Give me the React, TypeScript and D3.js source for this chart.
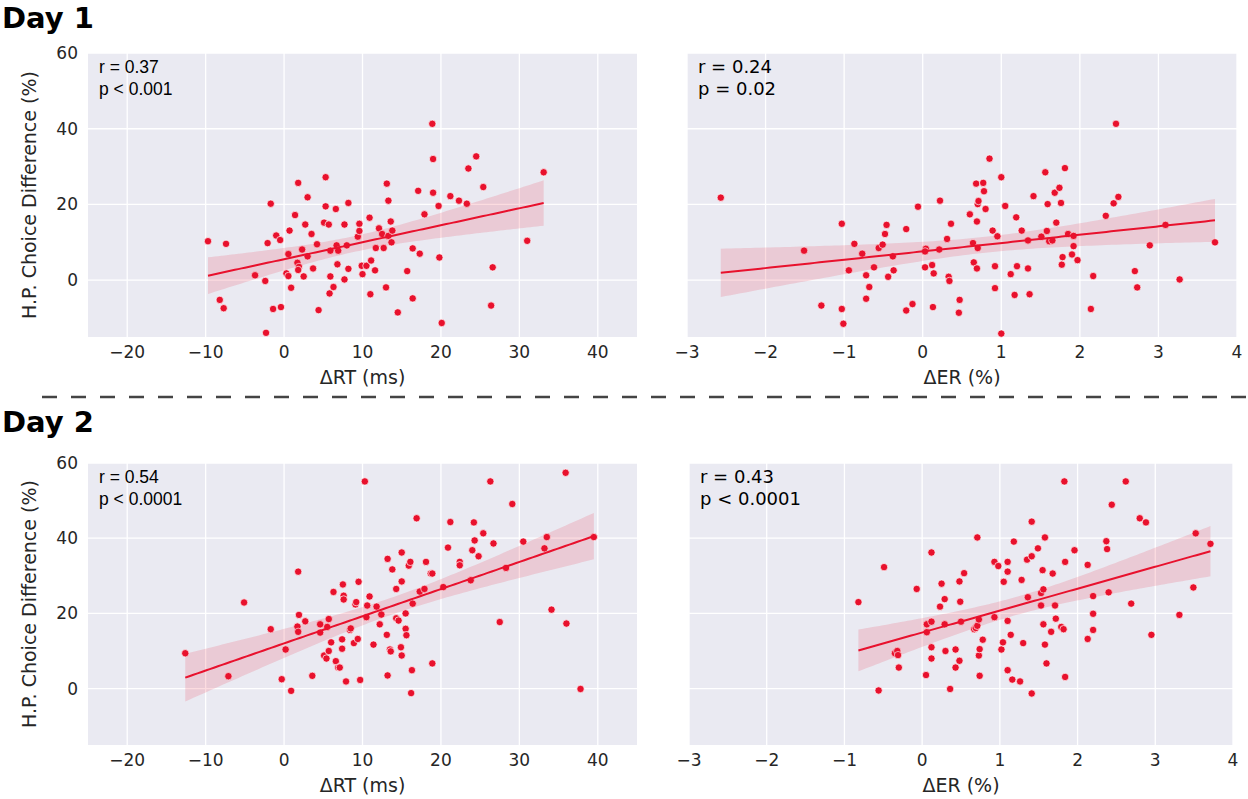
import * as d3 from 'd3'

// Day 1, ΔRT panel
const day1RtX = [-9.7, -7.4, -8.2, -7.7, -3.7, -2.4, -2.1, -1.7, -1.0, -0.5, -2.3, -1.4, -0.4, 0.55, 0.3, 0.55, 0.9, 0.7, 1.4, 1.8, 1.7, 1.9, 1.8, 2.3, 2.5, 2.7, 3.0, 3.0, 3.5, 3.7, 4.2, 4.4, 5.1, 5.3, 5.3, 5.7, 5.9, 5.9, 5.8, 6.3, 6.6, 6.7, 6.9, 6.8, 7.7, 7.7, 8.0, 8.2, 8.2, 9.4, 9.6, 9.6, 9.9, 10.0, 10.5, 10.9, 11.1, 11.0, 11.6, 11.7, 12.1, 12.5, 12.7, 13.1, 13.0, 13.3, 13.3, 13.6, 13.8, 13.7, 14.5, 15.7, 16.4, 16.4, 17.1, 17.3, 17.9, 18.9, 19.0, 19.0, 19.7, 19.8, 20.1, 21.2, 22.3, 23.3, 23.5, 24.5, 25.4, 26.6, 26.4, 31.0, 33.1]
const day1RtY = [10.3, 9.6, -5.2, -7.4, 1.3, -0.2, 9.8, 20.2, 11.8, 10.6, -13.9, -7.6, -7.1, 6.9, 1.8, 1.1, -2.0, 13.1, 17.2, 25.7, 4.6, 3.5, 2.7, 8.1, 1.0, 14.7, 21.9, 6.3, 12.2, 3.1, 9.5, -7.9, 15.2, 27.2, 19.5, 14.7, 7.8, 1.0, -3.5, -1.8, 18.8, 9.2, 7.8, 4.2, 14.7, 0.2, 9.2, 20.4, 3.0, 11.5, 14.9, 13.0, 3.8, 1.6, 3.8, 16.5, 5.2, -3.7, 2.6, 8.5, 13.7, 12.2, 8.5, 25.5, -1.9, 21.0, 11.7, 15.5, 13.1, 10.0, -8.5, 2.4, 8.4, -4.8, 23.6, 7.0, 17.4, 41.3, 32.0, 23.1, 19.6, 6.0, -11.3, 22.2, 21.0, 20.2, 29.5, 32.7, 24.6, 3.4, -6.7, 10.4, 28.5]

// Day 1, ΔER panel
const day1ErX = [-2.57, -1.51, -1.29, -1.03, -1.03, -1.01, -0.94, -0.87, -0.77, -0.72, -0.72, -0.68, -0.62, -0.56, -0.51, -0.48, -0.46, -0.44, -0.38, -0.37, -0.21, -0.21, -0.13, -0.06, 0.03, 0.04, 0.03, 0.13, 0.12, 0.14, 0.21, 0.22, 0.31, 0.36, 0.33, 0.34, 0.47, 0.46, 0.6, 0.64, 0.65, 0.68, 0.69, 0.69, 0.7, 0.71, 0.7, 0.77, 0.78, 0.8, 0.85, 0.89, 0.92, 0.92, 0.95, 1.0, 1.0, 1.05, 1.12, 1.17, 1.19, 1.2, 1.26, 1.34, 1.34, 1.36, 1.41, 1.51, 1.56, 1.58, 1.59, 1.61, 1.65, 1.68, 1.7, 1.74, 1.76, 1.77, 1.78, 1.81, 1.85, 1.9, 1.92, 1.92, 1.97, 2.14, 2.17, 2.33, 2.43, 2.49, 2.46, 2.7, 2.73, 2.89, 3.09, 3.27, 3.72]
const day1ErY = [21.8, 7.8, -6.7, 14.9, -7.6, -11.5, 2.6, 9.6, 7.0, 1.3, -4.9, -1.8, 3.4, 8.5, 9.4, 12.2, 14.6, 0.9, 6.3, 2.6, 13.5, -8.0, -6.3, 19.4, 3.4, 8.3, 7.6, -7.1, 4.0, 1.8, 8.1, 21.0, 10.9, 14.9, 0.9, -0.2, -5.2, -8.6, 17.4, 9.8, 4.7, 25.5, 3.1, 15.5, 20.1, 20.9, 8.5, 25.7, 23.5, 18.8, 32.1, 13.1, 3.7, -2.1, 11.6, 27.2, -14.1, 19.6, 1.6, -3.9, 16.6, 3.7, 13.1, 10.5, 3.1, -3.7, 22.2, 11.5, 28.5, 13.0, 20.1, 10.3, 10.5, 23.1, 15.2, 24.4, 20.4, 4.1, 6.1, 29.6, 12.2, 6.8, 11.7, 9.0, 5.3, -7.6, 1.1, 17.0, 20.3, 22.0, 41.3, 2.4, -1.9, 9.2, 14.6, 0.2, 10.0]

// Day 2, ΔRT panel
const day2RtX = [-12.6, -7.1, -5.1, -1.7, -0.3, 0.2, 0.9, 1.8, 1.9, 1.7, 1.8, 2.7, 3.6, 4.6, 4.6, 5.1, 5.4, 5.7, 5.5, 5.7, 6.0, 6.3, 6.6, 6.9, 7.1, 7.4, 7.4, 7.5, 7.6, 7.6, 7.9, 8.4, 8.5, 8.9, 9.1, 9.2, 9.4, 9.5, 9.7, 10.3, 10.6, 10.5, 10.9, 11.4, 11.8, 12.2, 12.4, 13.1, 13.2, 13.2, 13.5, 13.6, 13.8, 14.3, 14.3, 14.6, 14.9, 15.0, 15.0, 15.0, 15.5, 15.5, 15.6, 15.9, 16.1, 16.2, 16.3, 16.4, 16.9, 17.3, 17.9, 18.1, 18.7, 18.9, 18.9, 20.3, 20.9, 21.2, 22.4, 22.4, 23.8, 24.0, 24.2, 24.3, 24.8, 25.4, 26.3, 26.7, 27.5, 28.3, 29.1, 30.5, 33.2, 33.5, 34.1, 35.9, 36.0, 37.8, 39.5]
const day2RtY = [9.4, 3.3, 22.9, 15.8, 2.5, 10.4, -0.6, 31.1, 19.6, 16.5, 15.1, 17.9, 3.4, 17.1, 14.9, 8.8, 8.0, 18.5, 16.4, 10.0, 12.3, 25.7, 7.3, 5.6, 5.6, 13.1, 10.6, 27.7, 24.7, 23.7, 1.9, 15.6, 16.0, 12.1, 22.4, 23.0, 13.2, 28.4, 2.3, 55.1, 22.1, 19.0, 24.5, 11.7, 21.8, 17.1, 19.7, 14.3, 3.5, 34.5, 10.4, 9.9, 31.7, 26.5, 18.7, 18.1, 11.0, 8.8, 28.5, 36.2, 20.0, 15.9, 14.2, 32.7, 33.7, -1.2, 4.9, 22.6, 45.3, 25.8, 26.5, 33.7, 30.6, 30.6, 6.7, 27.0, 37.5, 44.3, 33.7, 32.8, 28.8, 36.8, 44.2, 39.4, 35.2, 41.3, 55.1, 38.6, 17.7, 32.1, 49.1, 39.1, 37.3, 40.3, 21.0, 57.4, 17.3, -0.1, 40.3]

// Day 2, ΔER panel
const day2ErX = [-0.82, -0.56, -0.49, -0.35, -0.32, -0.31, -0.3, -0.07, 0.05, 0.06, 0.06, 0.12, 0.12, 0.12, 0.12, 0.23, 0.25, 0.29, 0.3, 0.29, 0.36, 0.43, 0.43, 0.48, 0.49, 0.48, 0.5, 0.54, 0.67, 0.69, 0.71, 0.71, 0.73, 0.73, 0.74, 0.74, 0.78, 0.93, 0.93, 0.98, 1.02, 1.04, 1.05, 1.1, 1.1, 1.1, 1.1, 1.14, 1.16, 1.18, 1.26, 1.28, 1.3, 1.35, 1.36, 1.41, 1.41, 1.41, 1.49, 1.53, 1.53, 1.55, 1.56, 1.56, 1.58, 1.58, 1.6, 1.66, 1.68, 1.71, 1.72, 1.79, 1.82, 1.83, 1.84, 1.84, 1.96, 2.13, 2.13, 2.2, 2.2, 2.2, 2.37, 2.38, 2.4, 2.44, 2.62, 2.69, 2.8, 2.88, 2.95, 3.31, 3.49, 3.52, 3.71]
const day2ErY = [23.0, -0.5, 32.3, 9.4, 10.0, 8.9, 5.6, 26.5, 3.6, 17.1, 15.0, 36.2, 17.8, 11.0, 8.0, 21.8, 27.9, 23.8, 10.0, 17.1, -0.1, 10.4, 5.6, 28.5, 23.1, 7.4, 17.8, 30.7, 15.8, 16.1, 16.7, 40.2, 18.4, 8.8, 10.5, 3.4, 13.0, 19.0, 33.7, 32.6, 10.4, 12.3, 28.4, 33.7, 31.1, 18.0, 4.9, 14.3, 2.4, 39.1, 1.9, 28.9, 12.1, 34.3, 24.3, 35.2, 44.4, -1.3, 37.3, 22.1, 25.4, 31.5, 26.4, 17.1, 11.7, 40.2, 6.7, 15.1, 30.6, 22.1, 18.6, 16.4, 15.8, 55.1, 33.7, 3.1, 36.8, 32.9, 13.2, 24.6, 19.9, 15.6, 39.2, 37.1, 25.6, 48.9, 55.1, 22.6, 45.3, 44.2, 14.3, 19.6, 26.9, 41.3, 38.5]

const rtTicks = [-20, -10, 0, 10, 20, 30, 40]
const erTicks = [-3, -2, -1, 0, 1, 2, 3, 4]
const yTicks = [0, 20, 40, 60]
const statLines = [
  ['r = 0.37', 'p < 0.001'],
  ['r = 0.24', 'p = 0.02'],
  ['r = 0.54', 'p < 0.0001'],
  ['r = 0.43', 'p < 0.0001'],
]

const RED = '#e8112d'
const TEXT = '#262626'
const fmt = (v: number) => (v < 0 ? '\u2212' + Math.abs(v) : String(v))

// least squares fit + 95% band for the mean
function fit(xs: number[], ys: number[]) {
  const n = xs.length
  const mx = d3.mean(xs)!
  const my = d3.mean(ys)!
  let sxx = 0
  let sxy = 0
  xs.forEach((x, i) => {
    sxx += (x - mx) ** 2
    sxy += (x - mx) * (ys[i] - my)
  })
  const b = sxy / sxx
  const a = my - b * mx
  let sse = 0
  xs.forEach((x, i) => (sse += (ys[i] - a - b * x) ** 2))
  const s = Math.sqrt(sse / (n - 2))
  const [x0, x1] = d3.extent(xs) as [number, number]
  return d3.range(0, 101).map((k) => {
    const x = x0 + ((x1 - x0) * k) / 100
    const yhat = a + b * x
    const se = s * Math.sqrt(1 / n + (x - mx) ** 2 / sxx)
    return { x, y: yhat, lo: yhat - 1.984 * se, hi: yhat + 1.984 * se }
  })
}

function Panel({ xs, ys, xDomain, xTicks, box, xLabel, stat, statFont, showY }: any) {
  const x = d3.scaleLinear().domain(xDomain).range([box.left, box.right])
  const y = d3.scaleLinear().domain([-15, 60]).range([box.bottom, box.top])
  const reg = fit(xs, ys)
  const area = d3
    .area<any>()
    .x((d) => x(d.x))
    .y0((d) => y(d.lo))
    .y1((d) => y(d.hi))
  const line = d3
    .line<any>()
    .x((d) => x(d.x))
    .y((d) => y(d.y))
  const cx = (box.left + box.right) / 2
  return (
    <g>
      <rect x={box.left} y={box.top} width={box.right - box.left} height={box.bottom - box.top} fill="#eaeaf2" />
      {xTicks.map((t: number) => (
        <line key={'gx' + t} x1={x(t)} x2={x(t)} y1={box.top} y2={box.bottom} stroke="#fff" strokeWidth={1.3} />
      ))}
      {yTicks.map((t) => (
        <line key={'gy' + t} x1={box.left} x2={box.right} y1={y(t)} y2={y(t)} stroke="#fff" strokeWidth={1.3} />
      ))}
      {xs.map((v: number, i: number) => (
        <circle key={i} cx={x(v)} cy={y(ys[i])} r={3.7} fill={RED} stroke="#fff" strokeWidth={0.7} />
      ))}
      <path d={area(reg)!} fill={RED} fillOpacity={0.15} />
      <path d={line(reg)!} fill="none" stroke={RED} strokeWidth={2} />
      {xTicks.map((t: number) => (
        <text key={'tx' + t} x={x(t)} y={box.bottom + 21} textAnchor="middle" fontSize={17} fill={TEXT}>
          {fmt(t)}
        </text>
      ))}
      {showY &&
        yTicks.map((t) => (
          <text key={'ty' + t} x={box.left - 10} y={y(t)} dy="0.35em" textAnchor="end" fontSize={17} fill={TEXT}>
            {t}
          </text>
        ))}
      <text x={cx} y={box.bottom + 47} textAnchor="middle" fontSize={19} fill={TEXT}>
        {xLabel}
      </text>
      {showY && (
        <text
          transform={`translate(${box.left - 52},${(box.top + box.bottom) / 2}) rotate(-90)`}
          textAnchor="middle"
          fontSize={19}
          fill={TEXT}
        >
          H.P. Choice Difference (%)
        </text>
      )}
      <g fontFamily={statFont} fontSize={statFont.startsWith('Liberation') ? 17.5 : 18} fill="#000">
        <text x={box.left + 11} y={box.top + 20}>
          {stat[0]}
        </text>
        <text x={box.left + 11} y={box.top + 42}>
          {stat[1]}
        </text>
      </g>
    </g>
  )
}

export default function App() {
  const W = 1248
  const H = 799
  const boxes = [
    { left: 88, right: 637, top: 53, bottom: 337 },
    { left: 687, right: 1237, top: 53, bottom: 337 },
    { left: 88, right: 637, top: 463, bottom: 745 },
    { left: 689, right: 1233, top: 463, bottom: 745 },
  ]
  return (
    <svg
      width={W}
      height={H}
      style={{ position: 'absolute', left: 0, top: 0, background: '#fff' }}
      fontFamily="DejaVu Sans"
    >
      <text x={2} y={28} fontSize={29} fontWeight="bold" fill="#000">
        Day 1
      </text>
      <text x={2} y={432} fontSize={29} fontWeight="bold" fill="#000">
        Day 2
      </text>
      <line x1={42} x2={W} y1={397} y2={397} stroke="#444" strokeWidth={2.6} strokeDasharray="15 14" />
      <Panel xs={day1RtX} ys={day1RtY} xDomain={[-25, 45]} xTicks={rtTicks} box={boxes[0]} xLabel="ΔRT (ms)" stat={statLines[0]} statFont="Liberation Sans" showY />
      <Panel xs={day1ErX} ys={day1ErY} xDomain={[-3, 4]} xTicks={erTicks} box={boxes[1]} xLabel="ΔER (%)" stat={statLines[1]} statFont="DejaVu Sans" showY={false} />
      <Panel xs={day2RtX} ys={day2RtY} xDomain={[-25, 45]} xTicks={rtTicks} box={boxes[2]} xLabel="ΔRT (ms)" stat={statLines[2]} statFont="Liberation Sans" showY />
      <Panel xs={day2ErX} ys={day2ErY} xDomain={[-3, 4]} xTicks={erTicks} box={boxes[3]} xLabel="ΔER (%)" stat={statLines[3]} statFont="DejaVu Sans" showY={false} />
    </svg>
  )
}
